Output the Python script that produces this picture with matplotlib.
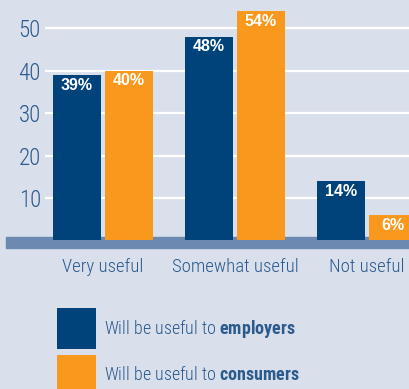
import matplotlib
matplotlib.use('Agg')
import matplotlib.pyplot as plt
from matplotlib import font_manager

categories = ['Very useful', 'Somewhat useful', 'Not useful']
employers = [39, 48, 14]
consumers = [40, 54, 6]
series_labels = ['Will be useful to $\\bf{employers}$',
                 'Will be useful to $\\bf{consumers}$']
y_ticks = [10, 20, 30, 40, 50]

BG = '#d9dfeb'
NAVY = '#00427a'
ORANGE = '#f8981d'
TEXT = '#2b5a8c'
BAND = '#6c89b1'


def pick_font(candidates):
    """Return the first family in candidates that is installed."""
    for name in candidates:
        try:
            font_manager.findfont(name, fallback_to_default=False)
            return name
        except ValueError:
            continue
    return 'DejaVu Sans'


def usefulness_chart():
    """
        Grouped bars of how useful employers and consumers expect things to be.
    """
    narrow = pick_font(['Liberation Sans Narrow', 'Roboto Condensed',
                        'DejaVu Sans Condensed', 'Open Sans Condensed',
                        'Liberation Sans'])
    plt.rcParams['font.family'] = [narrow, 'DejaVu Sans']
    plt.rcParams['mathtext.fontset'] = 'custom'
    plt.rcParams['mathtext.bf'] = narrow + ':bold'
    plt.rcParams['mathtext.rm'] = narrow

    fig = plt.figure(figsize=(4.1, 3.89), dpi=100, facecolor=BG)
    ax = fig.add_axes([45 / 410, 139 / 389, 365 / 410, 250 / 389])
    ax.set_facecolor(BG)

    width = 0.364
    offset = 0.197
    xs = range(len(categories))
    b1 = ax.bar([x - offset for x in xs], employers, width,
                color=NAVY, zorder=3, label=series_labels[0])
    b2 = ax.bar([x + offset for x in xs], consumers, width,
                color=ORANGE, zorder=3, label=series_labels[1])

    for bars in (b1, b2):
        for rect in bars:
            ax.annotate(f'{rect.get_height():.0f}%',
                        (rect.get_x() + rect.get_width() / 2,
                         rect.get_height()),
                        xytext=(0, -7.5), textcoords='offset points',
                        ha='center', va='center', color='white',
                        fontsize=11.5, fontweight='bold',
                        family='Liberation Sans', zorder=4)

    # baseline band runs a little past the left edge of the axes
    ax.axhspan(-1.76, 0.82, xmin=-0.107, xmax=1, color=BAND,
               zorder=2, clip_on=False)

    ax.set_xlim(-0.439, 2.326)
    ax.set_ylim(-2.24, 56.6)
    ax.set_yticks(y_ticks)
    ax.grid(axis='y', color='white', linewidth=1.6, zorder=1)
    ax.set_xticks(list(xs), categories)
    ax.tick_params(axis='y', length=0, pad=3, labelsize=16.5,
                   labelcolor=TEXT)
    ax.tick_params(axis='x', length=0, pad=6, labelsize=13.5,
                   labelcolor=TEXT)
    for lbl in ax.get_xticklabels() + ax.get_yticklabels():
        lbl.set_fontweight('light')
    for side in ax.spines.values():
        side.set_visible(False)

    fig.legend(handles=[b1, b2], loc='upper left',
               bbox_to_anchor=(57 / 410, 1 - 308 / 389),
               frameon=False, prop={'size': 13, 'weight': 'light'},
               labelcolor=TEXT,
               handlelength=2.15, handleheight=3.08, handletextpad=0.44,
               labelspacing=0.33, borderpad=0, borderaxespad=0)

    fig.savefig('out.png', dpi=100, facecolor=BG)


def main():
    usefulness_chart()


if __name__ == '__main__':
    main()
